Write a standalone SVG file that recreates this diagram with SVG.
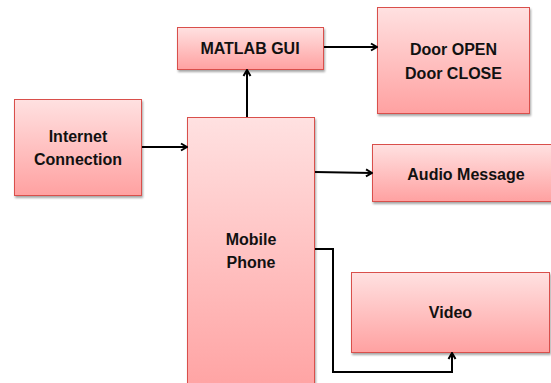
<svg xmlns="http://www.w3.org/2000/svg" width="551" height="383" viewBox="0 0 551 383">
<defs>
<linearGradient id="g" x1="0" y1="0" x2="0" y2="1">
<stop offset="0" stop-color="#FFE1E1"/>
<stop offset="1" stop-color="#FFA1A1"/>
</linearGradient>
<filter id="sh" x="-10%" y="-10%" width="120%" height="130%">
<feDropShadow dx="1" dy="2" stdDeviation="1.2" flood-color="#000" flood-opacity="0.35"/>
</filter>
<marker id="ah" viewBox="0 0 10 10" refX="9" refY="5" markerWidth="10" markerHeight="10" markerUnits="userSpaceOnUse" orient="auto">
<path d="M3,1.5 L9,5 L3,8.5" fill="none" stroke="#000" stroke-width="2"/>
</marker>
<style>
.box{fill:url(#g);stroke:#D9504C;stroke-width:1;filter:url(#sh)}
.t{font-family:"Liberation Sans",Arial,sans-serif;font-weight:bold;font-size:16px;fill:#111;text-anchor:middle}
.c{fill:none;stroke:#000;stroke-width:2;marker-end:url(#ah)}
</style>
</defs>
<rect width="551" height="383" fill="#fff"/>
<g id="matlab-gui"><rect class="box" x="177.5" y="27.5" width="146" height="42"/><text class="t" x="250" y="54">MATLAB GUI</text></g>
<g id="door"><rect class="box" x="377.5" y="7.5" width="152" height="106"/><text class="t" x="453.5" y="55">Door OPEN</text><text class="t" x="453.5" y="79">Door CLOSE</text></g>
<g id="internet"><rect class="box" x="14.5" y="99.5" width="127" height="96"/><text class="t" x="78" y="142">Internet</text><text class="t" x="78" y="165">Connection</text></g>
<g id="mobile"><rect class="box" x="187.5" y="117.5" width="127" height="280"/><text class="t" x="251" y="245">Mobile</text><text class="t" x="251" y="268">Phone</text></g>
<g id="audio"><rect class="box" x="372.5" y="144.5" width="186" height="57"/><text class="t" x="466" y="180">Audio Message</text></g>
<g id="video"><rect class="box" x="351.5" y="272.5" width="198" height="80"/><text class="t" x="450.5" y="318">Video</text></g>
<g id="connectors">
<path class="c" d="M247,117 V70"/>
<path class="c" d="M142,147 H187"/>
<path class="c" d="M324,47 H377"/>
<path class="c" d="M315,172 L372,173"/>
<path class="c" d="M315,249 H333 V372 H452 V353"/>
</g>
</svg>
